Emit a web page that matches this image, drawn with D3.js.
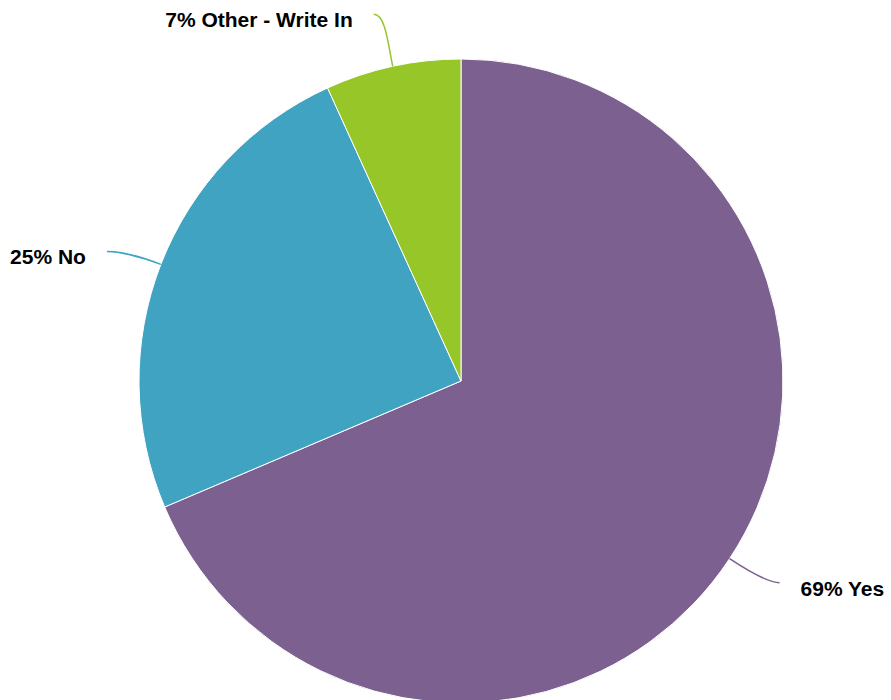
<!DOCTYPE html>
<html>
<head>
<meta charset="utf-8">
<script src="https://cdn.jsdelivr.net/npm/d3@7"></script>
<style>
  html, body { margin: 0; padding: 0; background: #fff; }
  text { font-family: "Liberation Sans", Arial, sans-serif; font-weight: bold; }
</style>
</head>
<body>
<svg width="891" height="700"></svg>
<script>
/* global d3 */
var categories = ['Yes', 'No', 'Other - Write In']
var shares = [68.6, 24.6, 6.8]
var colors = ['#7c6090', '#41a3c2', '#96c627']

var svg = d3.select('svg')
var cx = 461
var cy = 381
var radius = 322
var labelDist = 55

var data = categories.map((c, i) => ({ name: c, value: shares[i], color: colors[i] }))

var pie = d3.pie().sort(null).value(d => d.value)
var arc = d3.arc().innerRadius(0).outerRadius(radius)
var arcs = pie(data)

var g = svg.append('g').attr('transform', 'translate(' + cx + ',' + cy + ')')

g.selectAll('path.slice')
  .data(arcs)
  .enter().append('path')
    .attr('class', 'slice')
    .attr('d', arc)
    .attr('fill', d => d.data.color)
    .attr('stroke', '#fff')
    .attr('stroke-width', 1)
    .attr('stroke-linejoin', 'round')

// connectors + labels
function polar (r, a) {
  return [r * Math.sin(a), -r * Math.cos(a)]
}

arcs.forEach(d => {
  var mid = (d.startAngle + d.endAngle) / 2
  var edge = polar(radius, mid)
  var ext = polar(radius + 22, mid)
  var anchor = polar(radius + labelDist, mid - 0.02)
  var right = Math.sin(mid) > 0
  var side = right ? 1 : -1
  var c1 = [anchor[0] - side * 12, anchor[1]]

  g.append('path')
    .attr('d', 'M' + anchor[0] + ',' + anchor[1] +
      'C' + c1[0] + ',' + c1[1] + ' ' + ext[0] + ',' + ext[1] + ' ' + edge[0] + ',' + edge[1])
    .attr('fill', 'none')
    .attr('stroke', d.data.color)
    .attr('stroke-width', 1.5)

  g.append('text')
    .attr('x', anchor[0] + side * 21)
    .attr('y', anchor[1] + 13)
    .attr('text-anchor', right ? 'start' : 'end')
    .attr('font-size', 21)
    .attr('fill', '#000')
    .text(Math.round(d.data.value) + '% ' + d.data.name)
})
</script>
</body>
</html>
